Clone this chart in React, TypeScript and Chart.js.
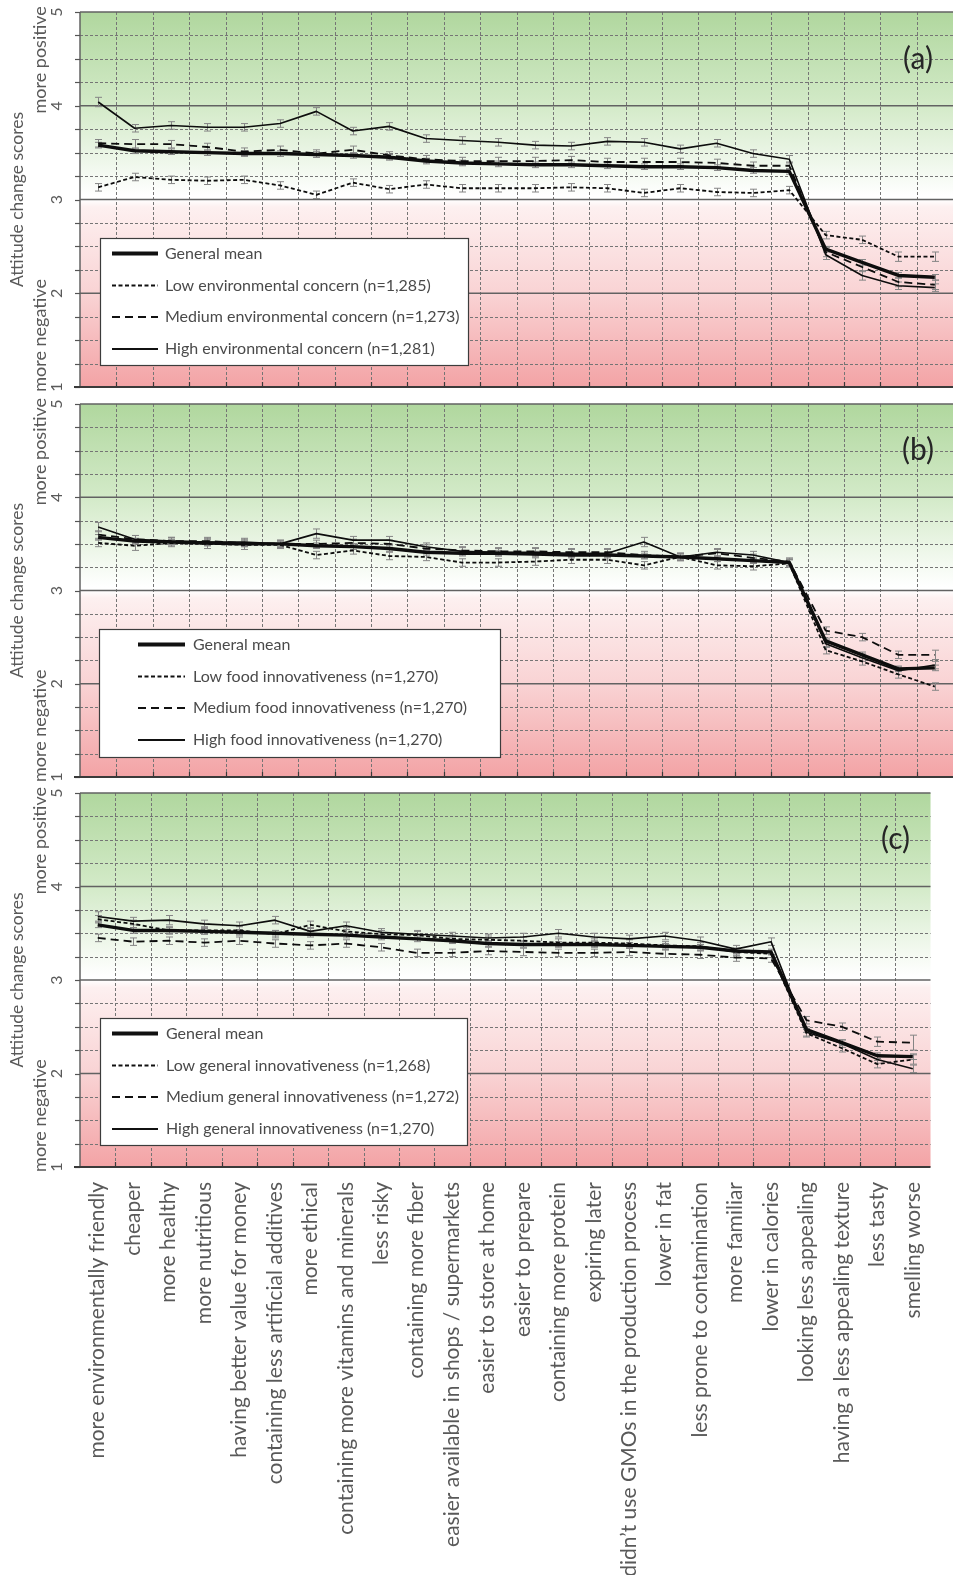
import React, { useEffect, useRef } from 'react';
import { Chart, registerables } from 'chart.js';

Chart.register(...registerables);

// ---------- DATA ----------
const categories = [
  'more environmentally friendly', 'cheaper', 'more healthy', 'more nutritious',
  'having better value for money', 'containing less artificial additives', 'more ethical',
  'containing more vitamins and minerals', 'less risky', 'containing more fiber',
  'easier available in shops / supermarkets', 'easier to store at home', 'easier to prepare',
  'containing more protein', 'expiring later', 'didn\u2019t use GMOs in the production process',
  'lower in fat', 'less prone to contamination', 'more familiar', 'lower in calories',
  'looking less appealing', 'having a less appealing texture', 'less tasty', 'smelling worse',
];

const yTickValues = [1, 2, 3, 4, 5];
const yTickLabels = ['1', '2', '3', '4', '5'];

const legendA = ['General mean', 'Low environmental concern (n=1,285)', 'Medium environmental concern (n=1,273)', 'High environmental concern (n=1,281)'];
const legendB = ['General mean', 'Low food innovativeness (n=1,270)', 'Medium food innovativeness (n=1,270)', 'High food innovativeness (n=1,270)'];
const legendC = ['General mean', 'Low general innovativeness (n=1,268)', 'Medium general innovativeness (n=1,272)', 'High general innovativeness (n=1,270)'];

// Panel (a) environmental concern
const genA = [3.58, 3.52, 3.51, 3.50, 3.49, 3.49, 3.48, 3.47, 3.45, 3.41, 3.39, 3.38, 3.37, 3.37, 3.36, 3.35, 3.35, 3.34, 3.31, 3.30, 2.47, 2.33, 2.19, 2.17];
const lowA = [3.13, 3.24, 3.21, 3.20, 3.21, 3.15, 3.05, 3.18, 3.11, 3.16, 3.12, 3.12, 3.12, 3.13, 3.12, 3.07, 3.12, 3.08, 3.07, 3.10, 2.62, 2.57, 2.39, 2.39];
const medA = [3.60, 3.59, 3.59, 3.56, 3.51, 3.53, 3.49, 3.53, 3.47, 3.43, 3.41, 3.41, 3.41, 3.42, 3.40, 3.40, 3.40, 3.39, 3.36, 3.36, 2.44, 2.28, 2.12, 2.09];
const highA = [4.04, 3.76, 3.79, 3.77, 3.77, 3.81, 3.94, 3.73, 3.78, 3.65, 3.63, 3.61, 3.58, 3.57, 3.62, 3.61, 3.54, 3.60, 3.49, 3.43, 2.41, 2.19, 2.08, 2.06];
const errGenA = [0.03, 0.03, 0.03, 0.03, 0.03, 0.03, 0.03, 0.03, 0.03, 0.03, 0.03, 0.03, 0.03, 0.03, 0.03, 0.03, 0.03, 0.03, 0.03, 0.03, 0.03, 0.03, 0.03, 0.03];
const errLowA = [0.04, 0.04, 0.04, 0.04, 0.04, 0.04, 0.04, 0.04, 0.04, 0.04, 0.04, 0.04, 0.04, 0.04, 0.04, 0.04, 0.04, 0.04, 0.04, 0.04, 0.04, 0.04, 0.05, 0.05];
const errMedA = [0.04, 0.05, 0.04, 0.04, 0.04, 0.04, 0.04, 0.04, 0.04, 0.04, 0.04, 0.04, 0.04, 0.04, 0.04, 0.04, 0.04, 0.04, 0.04, 0.04, 0.05, 0.05, 0.05, 0.05];
const errHighA = [0.05, 0.04, 0.04, 0.04, 0.04, 0.04, 0.04, 0.04, 0.04, 0.04, 0.04, 0.04, 0.04, 0.04, 0.04, 0.04, 0.04, 0.04, 0.04, 0.04, 0.05, 0.05, 0.04, 0.04];

// Panel (b) food innovativeness
const genB = [3.57, 3.53, 3.52, 3.51, 3.50, 3.50, 3.48, 3.47, 3.45, 3.41, 3.40, 3.40, 3.39, 3.38, 3.38, 3.37, 3.36, 3.34, 3.32, 3.30, 2.46, 2.31, 2.16, 2.17];
const lowB = [3.51, 3.48, 3.51, 3.50, 3.49, 3.49, 3.38, 3.43, 3.37, 3.36, 3.30, 3.30, 3.31, 3.33, 3.33, 3.27, 3.36, 3.27, 3.26, 3.29, 2.36, 2.24, 2.10, 1.97];
const medB = [3.60, 3.55, 3.53, 3.53, 3.51, 3.50, 3.50, 3.51, 3.50, 3.45, 3.43, 3.42, 3.42, 3.41, 3.41, 3.38, 3.36, 3.40, 3.35, 3.31, 2.57, 2.50, 2.31, 2.31];
const highB = [3.68, 3.55, 3.53, 3.52, 3.52, 3.50, 3.61, 3.54, 3.54, 3.47, 3.42, 3.41, 3.41, 3.40, 3.40, 3.52, 3.36, 3.41, 3.38, 3.30, 2.43, 2.28, 2.14, 2.20];
const errGenB = [0.03, 0.03, 0.03, 0.03, 0.03, 0.03, 0.03, 0.03, 0.03, 0.03, 0.03, 0.03, 0.03, 0.03, 0.03, 0.03, 0.03, 0.03, 0.03, 0.03, 0.03, 0.03, 0.03, 0.03];
const errLowB = [0.04, 0.05, 0.04, 0.05, 0.05, 0.04, 0.04, 0.04, 0.04, 0.04, 0.04, 0.04, 0.04, 0.04, 0.04, 0.04, 0.04, 0.04, 0.04, 0.04, 0.04, 0.04, 0.04, 0.04];
const errMedB = [0.04, 0.04, 0.04, 0.04, 0.04, 0.04, 0.04, 0.04, 0.04, 0.04, 0.04, 0.04, 0.04, 0.04, 0.04, 0.04, 0.04, 0.04, 0.04, 0.04, 0.04, 0.04, 0.04, 0.05];
const errHighB = [0.05, 0.04, 0.04, 0.04, 0.04, 0.04, 0.05, 0.04, 0.04, 0.04, 0.04, 0.04, 0.04, 0.04, 0.04, 0.05, 0.04, 0.04, 0.04, 0.04, 0.04, 0.04, 0.04, 0.04];

// Panel (c) general innovativeness
const genC = [3.59, 3.53, 3.53, 3.52, 3.51, 3.50, 3.49, 3.48, 3.46, 3.44, 3.42, 3.39, 3.38, 3.38, 3.38, 3.37, 3.36, 3.35, 3.31, 3.30, 2.47, 2.33, 2.19, 2.18];
const lowC = [3.65, 3.60, 3.53, 3.53, 3.53, 3.49, 3.59, 3.52, 3.49, 3.48, 3.44, 3.43, 3.42, 3.40, 3.40, 3.39, 3.37, 3.36, 3.30, 3.28, 2.43, 2.27, 2.10, 2.15];
const medC = [3.45, 3.41, 3.42, 3.40, 3.42, 3.39, 3.37, 3.39, 3.35, 3.29, 3.29, 3.31, 3.30, 3.29, 3.29, 3.30, 3.28, 3.27, 3.24, 3.23, 2.57, 2.50, 2.34, 2.33];
const highC = [3.68, 3.63, 3.64, 3.60, 3.58, 3.64, 3.52, 3.58, 3.51, 3.49, 3.47, 3.45, 3.46, 3.50, 3.46, 3.44, 3.47, 3.42, 3.33, 3.41, 2.44, 2.32, 2.15, 2.05];
const errGenC = [0.03, 0.03, 0.03, 0.03, 0.03, 0.03, 0.03, 0.03, 0.03, 0.03, 0.03, 0.03, 0.03, 0.03, 0.03, 0.03, 0.03, 0.03, 0.03, 0.03, 0.03, 0.03, 0.03, 0.03];
const errLowC = [0.04, 0.04, 0.04, 0.04, 0.04, 0.04, 0.04, 0.04, 0.04, 0.04, 0.04, 0.04, 0.04, 0.04, 0.04, 0.04, 0.04, 0.04, 0.04, 0.04, 0.04, 0.04, 0.04, 0.05];
const errMedC = [0.04, 0.04, 0.04, 0.04, 0.04, 0.04, 0.04, 0.04, 0.04, 0.04, 0.04, 0.04, 0.04, 0.04, 0.04, 0.04, 0.04, 0.04, 0.04, 0.04, 0.04, 0.04, 0.05, 0.08];
const errHighC = [0.05, 0.04, 0.05, 0.04, 0.04, 0.04, 0.04, 0.04, 0.04, 0.04, 0.04, 0.04, 0.04, 0.04, 0.04, 0.04, 0.04, 0.04, 0.04, 0.04, 0.04, 0.04, 0.04, 0.04];

// ---------- STYLES ----------
const FONT = 'Lato, "Open Sans", sans-serif';
const TEXT = '#595959';
const seriesStyles = [
  { width: 3.4, dash: [] as number[], legendWidth: 4 },
  { width: 1.8, dash: [4, 2.5], legendWidth: 2.2 },
  { width: 1.8, dash: [8, 5], legendWidth: 2.2 },
  { width: 1.6, dash: [] as number[], legendWidth: 2 },
];

type PanelCfg = {
  top: number; height: number; padTop: number; padBottom: number; showX: boolean; xHeight?: number;
  letter: string; legend: string[]; series: number[][]; errors: number[][];
  box: { x: number; y: number; w: number; h: number; l0: number; l1: number; tx: number };
};

const panels: PanelCfg[] = [
  { top: 0, height: 395, padTop: 12, padBottom: 8, showX: false, letter: '(a)', legend: legendA,
    series: [genA, lowA, medA, highA], errors: [errGenA, errLowA, errMedA, errHighA],
    box: { x: 100, y: 238, w: 368, h: 127, l0: 112, l1: 158, tx: 165 } },
  { top: 390, height: 395, padTop: 14, padBottom: 8, showX: false, letter: '(b)', legend: legendB,
    series: [genB, lowB, medB, highB], errors: [errGenB, errLowB, errMedB, errHighB],
    box: { x: 99, y: 239, w: 401, h: 128, l0: 138, l1: 185, tx: 193 } },
  { top: 780, height: 795, padTop: 13, padBottom: 0, showX: true, xHeight: 408, letter: '(c)', legend: legendC,
    series: [genC, lowC, medC, highC], errors: [errGenC, errLowC, errMedC, errHighC],
    box: { x: 100, y: 238, w: 367, h: 127, l0: 112, l1: 158, tx: 166 } },
];

function line(ctx: CanvasRenderingContext2D, x0: number, y0: number, x1: number, y1: number) {
  ctx.beginPath(); ctx.moveTo(x0, y0); ctx.lineTo(x1, y1); ctx.stroke();
}

function vtext(ctx: CanvasRenderingContext2D, text: string, x: number, y: number, font: string, color: string) {
  ctx.save();
  ctx.translate(x, y);
  ctx.rotate(-Math.PI / 2);
  ctx.font = font; ctx.fillStyle = color; ctx.textAlign = 'center'; ctx.textBaseline = 'middle';
  ctx.fillText(text, 0, 0);
  ctx.restore();
}

function makeDecor(cfg: PanelCfg) {
  return {
    id: 'decor',
    beforeDatasetsDraw(chart: any) {
      const { ctx, chartArea: ca, scales } = chart;
      const x = scales.x, y = scales.y;
      ctx.save();
      const yTop = y.getPixelForValue(5), yBot = y.getPixelForValue(1);
      const g = ctx.createLinearGradient(0, yTop, 0, yBot);
      g.addColorStop(0, '#b0d79e');
      g.addColorStop(0.25, '#d3eac8');
      g.addColorStop(0.49, '#ffffff');
      g.addColorStop(0.5, '#ffffff');
      g.addColorStop(0.52, '#fdf0f0');
      g.addColorStop(0.75, '#f9d3d4');
      g.addColorStop(1, '#f3a3a5');
      ctx.fillStyle = g;
      ctx.fillRect(ca.left, ca.top, ca.right - ca.left, ca.bottom - ca.top);

      // vertical dashed grid (category boundaries)
      const bounds: number[] = [];
      for (let i = 0; i < categories.length - 1; i++) {
        bounds.push(Math.round((x.getPixelForValue(i) + x.getPixelForValue(i + 1)) / 2) + 0.5);
      }
      ctx.lineWidth = 1; ctx.strokeStyle = '#757575'; ctx.setLineDash([3, 2]);
      bounds.forEach((px) => line(ctx, px, ca.top, px, ca.bottom));
      // minor horizontal dashed grid every 0.25
      for (let v = 1.25; v < 5; v += 0.25) {
        if (Math.abs(v - Math.round(v)) < 1e-6) continue;
        const py = Math.round(y.getPixelForValue(v)) + 0.5;
        line(ctx, ca.left, py, ca.right, py);
      }
      ctx.setLineDash([]);
      // major lines
      ctx.strokeStyle = '#626262'; ctx.lineWidth = 1.5;
      yTickValues.filter((v) => v > 1).forEach((v) => {
        const py = y.getPixelForValue(v);
        line(ctx, ca.left, py, ca.right, py);
      });
      // left axis + ticks
      line(ctx, ca.left, ca.top, ca.left, ca.bottom);
      ctx.lineWidth = 1.2; ctx.strokeStyle = '#555';
      for (let v = 1; v <= 5.001; v += 0.25) {
        const py = Math.round(y.getPixelForValue(v)) + 0.5;
        line(ctx, ca.left - 5, py, ca.left, py);
      }
      // bottom axis + ticks
      ctx.strokeStyle = '#3a3a3a'; ctx.lineWidth = 2;
      line(ctx, ca.left - 6, yBot, ca.right, yBot);
      ctx.lineWidth = 1.2;
      bounds.forEach((px) => line(ctx, px, yBot - 5, px, yBot));

      // error bars
      ctx.strokeStyle = '#858585'; ctx.lineWidth = 1;
      chart.data.datasets.forEach((ds: any) => {
        const errs: number[] = ds.errors || [];
        ds.data.forEach((v: number, i: number) => {
          const e = errs[i];
          if (!e) return;
          const px = Math.round(x.getPixelForValue(i)) + 0.5;
          const t = y.getPixelForValue(v + e), b = y.getPixelForValue(v - e);
          line(ctx, px, t, px, b);
          line(ctx, px - 3.5, t, px + 3.5, t);
          line(ctx, px - 3.5, b, px + 3.5, b);
        });
      });
      ctx.restore();
    },
    afterDraw(chart: any) {
      const { ctx, chartArea: ca, scales } = chart;
      const y = scales.y;
      ctx.save();
      // legend box
      const bx = cfg.box;
      ctx.fillStyle = '#ffffff';
      ctx.fillRect(bx.x, bx.y, bx.w, bx.h);
      ctx.strokeStyle = '#3c3c3c'; ctx.lineWidth = 1.2;
      ctx.strokeRect(bx.x + 0.5, bx.y + 0.5, bx.w, bx.h);
      const rows = [15.5, 47.5, 79, 111];
      cfg.legend.forEach((lab, k) => {
        const ry = bx.y + rows[k];
        ctx.strokeStyle = '#111'; ctx.lineWidth = seriesStyles[k].legendWidth;
        ctx.setLineDash(seriesStyles[k].dash);
        line(ctx, bx.l0, ry, bx.l1, ry);
        ctx.setLineDash([]);
        ctx.fillStyle = '#4a4a4a'; ctx.font = `16px ${FONT}`;
        ctx.textAlign = 'left'; ctx.textBaseline = 'middle';
        ctx.fillText(lab, bx.tx, ry);
      });
      // panel letter
      ctx.fillStyle = '#262626'; ctx.font = `30px ${FONT}`;
      ctx.textAlign = 'center'; ctx.textBaseline = 'middle';
      ctx.fillText(cfg.letter, ca.right - 35, y.getPixelForValue(4.5));
      // y-axis labels
      yTickValues.forEach((v, i) => vtext(ctx, yTickLabels[i], 57, y.getPixelForValue(v), `16px ${FONT}`, TEXT));
      vtext(ctx, 'more positive', 40, y.getPixelForValue(4.49), `18px ${FONT}`, TEXT);
      vtext(ctx, 'more negative', 40, y.getPixelForValue(1.55), `18px ${FONT}`, TEXT);
      vtext(ctx, 'Attitude change scores', 17, y.getPixelForValue(3.0), `17.5px ${FONT}`, TEXT);
      ctx.restore();
    },
  };
}

function Panel({ cfg }: { cfg: PanelCfg }) {
  const ref = useRef<HTMLCanvasElement>(null);
  useEffect(() => {
    const chart = new Chart(ref.current as HTMLCanvasElement, {
      type: 'line',
      data: {
        labels: categories,
        datasets: cfg.series.map((vals, k) => ({
          label: cfg.legend[k],
          data: vals,
          errors: cfg.errors[k],
          borderColor: '#0d0d0d',
          borderWidth: seriesStyles[k].width,
          borderDash: seriesStyles[k].dash,
          borderJoinStyle: 'round',
          pointRadius: 0,
          pointHoverRadius: 0,
          fill: false,
          tension: 0,
        })) as any,
      },
      options: {
        responsive: false,
        animation: false,
        devicePixelRatio: 1,
        layout: { padding: { top: cfg.padTop, bottom: cfg.padBottom, left: 0, right: 0 } },
        plugins: { legend: { display: false }, tooltip: { enabled: false } },
        scales: {
          x: {
            type: 'category',
            offset: true,
            display: cfg.showX,
            grid: { display: false, drawTicks: false },
            border: { display: false },
            ticks: {
              autoSkip: false, maxRotation: 90, minRotation: 90, padding: 15,
              color: TEXT, font: { family: FONT, size: 21 },
            },
            afterFit: (s: any) => { if (cfg.showX && cfg.xHeight) s.height = cfg.xHeight; },
          },
          y: {
            min: 1, max: 5,
            grid: { display: false },
            border: { display: false },
            ticks: { display: false },
            afterFit: (s: any) => { s.width = 80; },
          },
        },
      } as any,
      plugins: [makeDecor(cfg)],
    });
    return () => chart.destroy();
  }, []);
  return (
    <canvas
      ref={ref}
      width={953}
      height={cfg.height}
      style={{ position: 'absolute', left: 0, top: cfg.top, width: 953, height: cfg.height }}
    />
  );
}

export default function App() {
  return (
    <div style={{ position: 'absolute', left: 0, top: 0, width: 953, height: 1575, background: '#ffffff', overflow: 'hidden' }}>
      {panels.map((p) => <Panel key={p.letter} cfg={p} />)}
    </div>
  );
}
